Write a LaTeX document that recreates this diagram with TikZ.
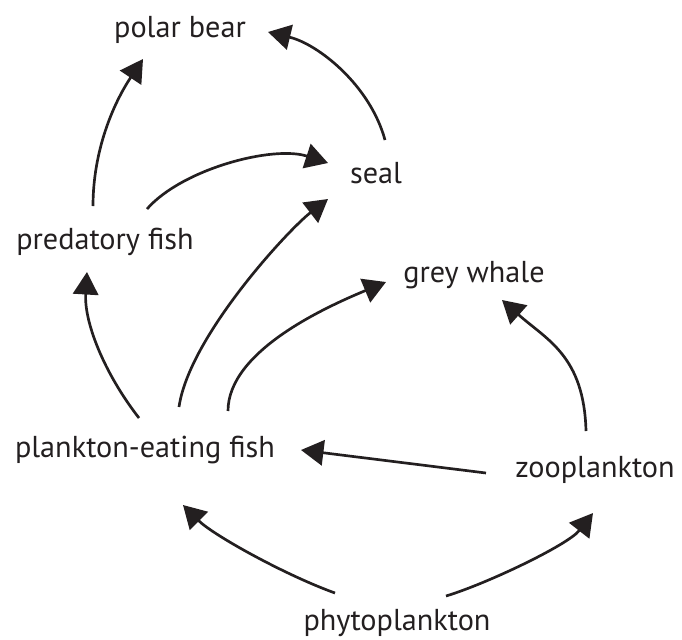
\documentclass[tikz,border=0pt]{standalone}
\usepackage{fontspec}
\setmainfont{PT Sans}
\usetikzlibrary{arrows.meta,calc}
\definecolor{ink}{RGB}{35,31,32}
\tikzset{
  species/.style={font=\fontsize{21.5}{24}\selectfont, text=ink, inner sep=0pt, anchor=base},
  ar/.style={-{Triangle[length=16pt, width=18pt]}, line width=1.9pt, draw=ink},
}
\begin{document}
\begin{tikzpicture}[x=0.025cm, y=-0.025cm]
\useasboundingbox (0,0) rectangle (682,639);

% ===================== species ==========================================
\node[species] (pb)   at (180,37)  {polar bear};
\node[species] (seal) at (376,183) {seal};
\node[species] (pf)   at (105,249) {predatory fish};
\node[species] (gw)   at (474,282) {grey whale};
\node[species] (pef)  at (145,457) {plankton-eating fish};
\node[species] (zp)   at (595,477) {zooplankton};
\node[species] (phy)  at (397,630) {phytoplankton};

% ===================== who eats whom ====================================
\draw[ar] ($(pf.base)+(-12,-43)$) .. controls +(0,-55) and +(-30,45) .. ($(pb.base)+(-37,22)$);
\draw[ar] ($(seal.base)+(9,-43)$) .. controls +(-15,-55) and +(50,12) .. ($(pb.base)+(88,-5)$);
\draw[ar] ($(pf.base)+(42,-40)$) .. controls +(35,-40) and +(-55,-18) .. ($(seal.base)+(-48,-20)$);
\draw[ar] ($(pef.base)+(34,-50)$) .. controls +(10,-70) and +(-40,31) .. ($(seal.base)+(-48,16)$);
\draw[ar] ($(pef.base)+(83,-46)$) .. controls +(0,-60) and +(-60,25) .. ($(gw.base)+(-88,0)$);
\draw[ar] ($(pef.base)+(-6,-39)$) .. controls +(-35,-45) and +(-3,50) .. ($(pf.base)+(-18,23)$);
\draw[ar] ($(zp.base)+(-9,-46)$) .. controls +(-2,-75) and +(45,40) .. ($(gw.base)+(28,18)$);
\draw[ar] ($(zp.base)+(-109,-4)$) -- ($(pef.base)+(156,-7)$);
\draw[ar] ($(phy.base)+(-62,-37)$) .. controls +(-50,-18) and +(30,30) .. ($(pef.base)+(38,48)$);
\draw[ar] ($(phy.base)+(49,-34)$) .. controls +(40,-12) and +(-25,32) .. ($(zp.base)+(-2,36)$);

\end{tikzpicture}
\end{document}
